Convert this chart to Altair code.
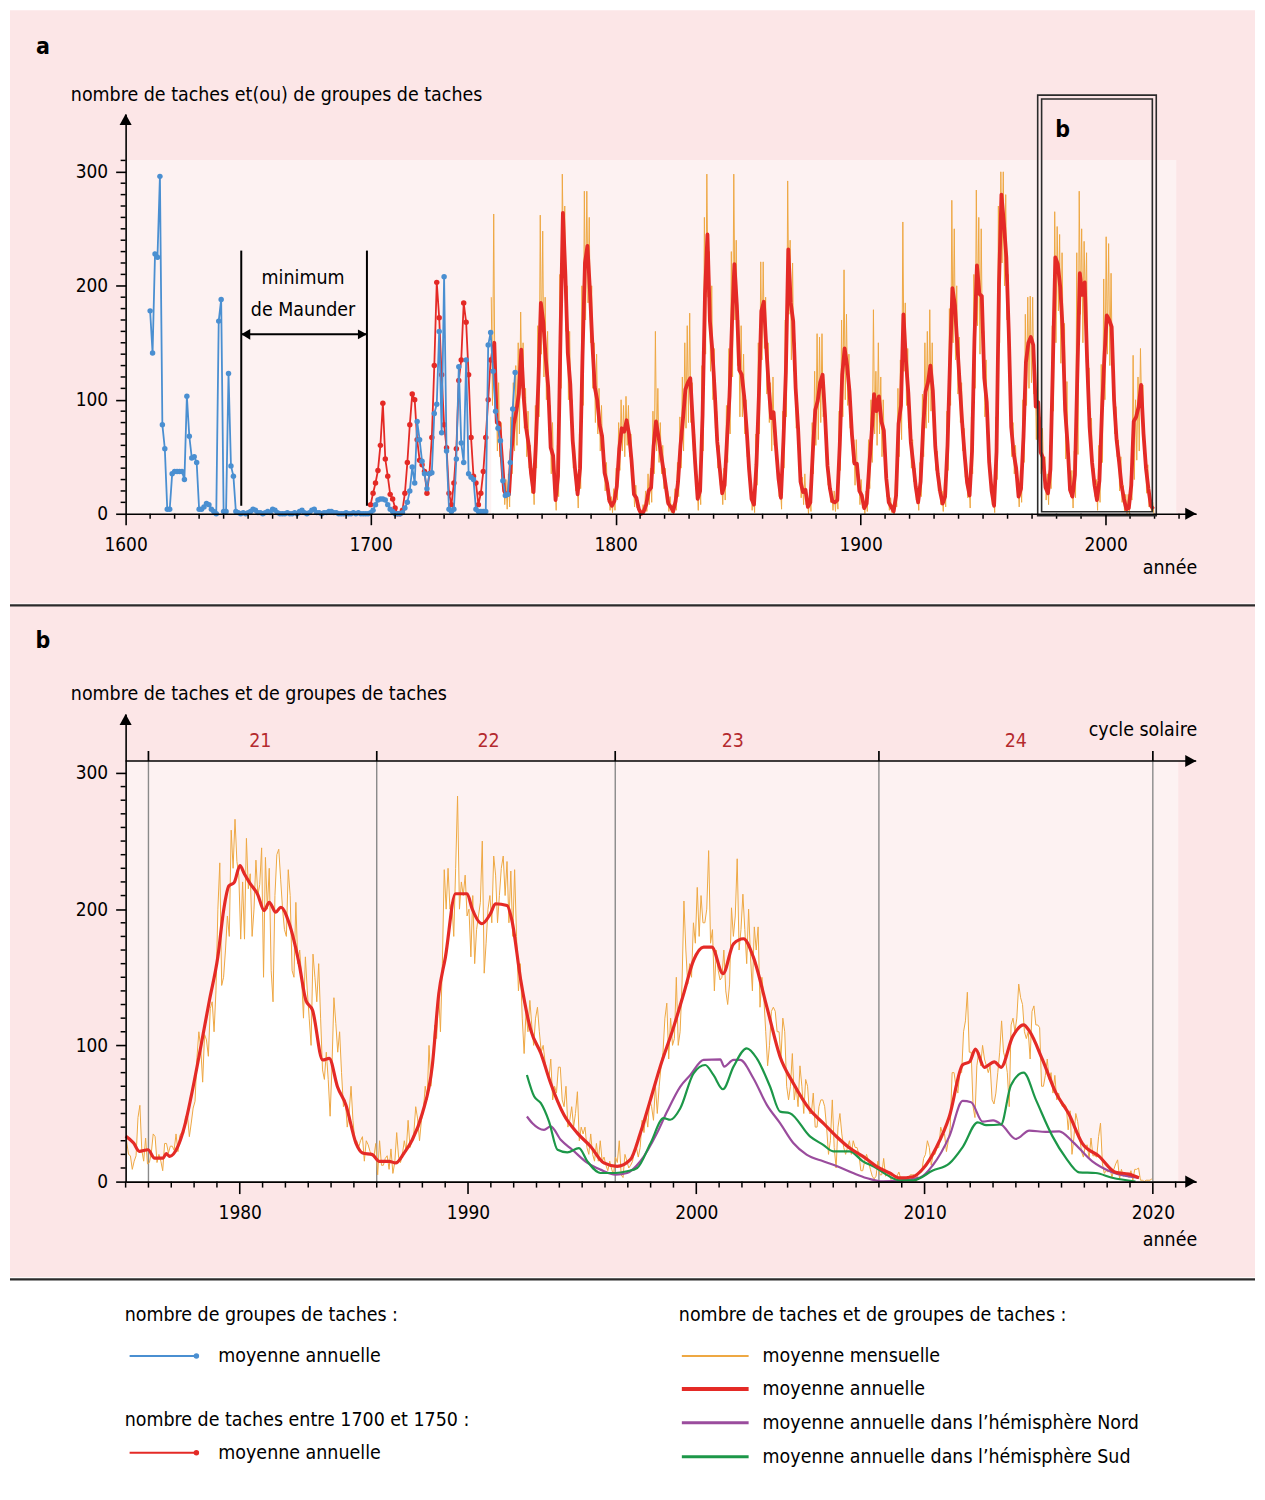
import altair as alt
import pandas as pd

# ------------------------------------------------------------------ data
# Panel a : number of sunspot groups (annual mean), 1610-1759
BLUE_YEARS = list(range(1610, 1760))
BLUE_VALUES = [
    178, 141, 228, 225, 296, 78, 57, 4, 4, 35,
    37, 37, 37, 37, 30, 103, 68, 49, 50, 45,
    4, 4, 6, 9, 8, 4, 2, 0, 169, 188,
    2, 2, 123, 42, 33, 2, 1, 0, 1, 0,
    1, 2, 4, 3, 1, 1, 0, 1, 2, 1,
    4, 3, 1, 0, 0, 0, 1, 0, 0, 1,
    0, 2, 3, 1, 0, 1, 3, 4, 1, 1,
    0, 1, 1, 2, 2, 1, 1, 0, 0, 0,
    1, 0, 0, 1, 0, 1, 0, 0, 0, 0,
    1, 3, 8, 12, 13, 13, 12, 8, 4, 2,
    0, 0, 0, 1, 5, 10, 20, 41, 27, 81,
    65, 46, 35, 22, 35, 36, 88, 96, 160, 71,
    208, 55, 4, 2, 4, 48, 129, 62, 45, 135,
    35, 32, 30, 4, 2, 2, 2, 2, 148, 159,
    125, 90, 75, 64, 29, 16, 17, 45, 92, 124,
]

# Panel a : number of sunspots 1700-1749 (annual mean, with dots)
RED_DOT_YEARS = list(range(1700, 1750))
RED_DOT_VALUES = [
    8, 18, 27, 38, 60, 97, 48, 33, 17, 13,
    5, 0, 0, 3, 18, 45, 78, 105, 100, 65,
    47, 43, 37, 18, 35, 67, 130, 203, 172, 122,
    78, 58, 18, 8, 27, 57, 117, 135, 185, 168,
    122, 67, 33, 27, 8, 18, 37, 67, 100, 135,
]

# Panel a : sunspot number 1749-2019, annual (smoothed) mean
ANNUAL_YEARS = list(range(1749, 2020))
ANNUAL_VALUES = [
    135,
    150, 80, 80, 51, 20, 16, 17, 54, 79, 90,
    105, 144, 102, 75, 61, 35, 19, 63, 116, 185,
    168, 136, 111, 58, 51, 12, 33, 154, 264, 210,
    141, 114, 64, 38, 17, 40, 138, 220, 235, 197,
    150, 111, 100, 78, 68, 36, 27, 11, 7, 11,
    24, 57, 75, 72, 82, 70, 47, 17, 14, 4,
    0, 2, 8, 20, 23, 59, 81, 68, 53, 39,
    24, 9, 6, 2, 11, 28, 60, 83, 109, 115,
    119, 81, 44, 13, 20, 86, 193, 245, 169, 143,
    106, 63, 40, 18, 25, 66, 103, 166, 219, 183,
    126, 122, 103, 74, 39, 13, 8, 43, 104, 178,
    186, 147, 112, 84, 89, 58, 31, 14, 63, 124,
    232, 185, 169, 110, 75, 28, 19, 21, 6, 10,
    54, 91, 99, 115, 122, 86, 42, 22, 11, 10,
    12, 60, 122, 145, 130, 107, 69, 44, 44, 20,
    16, 5, 9, 41, 70, 105, 90, 103, 81, 73,
    31, 10, 6, 2, 16, 79, 95, 175, 135, 106,
    63, 44, 24, 10, 28, 74, 107, 115, 130, 108,
    59, 35, 19, 9, 15, 60, 133, 198, 183, 148,
    113, 79, 51, 27, 16, 55, 154, 218, 193, 191,
    119, 98, 45, 20, 7, 54, 201, 280, 255, 225,
    159, 76, 53, 40, 15, 22, 67, 133, 150, 155,
    148, 94, 98, 54, 49, 23, 18, 39, 131, 225,
    219, 199, 162, 91, 61, 21, 15, 34, 123, 211,
    192, 203, 133, 76, 45, 25, 12, 29, 88, 136,
    174, 170, 164, 99, 65, 46, 25, 13, 4, 5,
    25, 81, 85, 94, 113, 70, 40, 22, 7, 4,
]
# Panel a : monthly means, highest and lowest month of each year 1749-2019
MONTH_HIGH = [
    190,
    263, 120, 115, 80, 40, 30, 35, 85, 115, 130,
    150, 177, 150, 110, 90, 60, 40, 95, 165, 262,
    248, 190, 160, 95, 80, 30, 60, 210, 298, 270,
    200, 160, 100, 60, 35, 70, 200, 283, 283, 260,
    200, 150, 140, 110, 95, 55, 45, 22, 15, 22,
    40, 80, 100, 95, 103, 95, 70, 30, 25, 12,
    3, 8, 20, 35, 40, 90, 160, 110, 80, 60,
    40, 20, 15, 8, 22, 45, 85, 120, 150, 165,
    176, 115, 70, 25, 35, 130, 260, 298, 230, 200,
    145, 90, 60, 30, 40, 95, 145, 230, 298, 240,
    170, 165, 140, 100, 60, 25, 18, 70, 150, 221,
    221, 190, 150, 115, 120, 80, 45, 25, 90, 170,
    292, 240, 220, 150, 100, 45, 32, 35, 14, 20,
    80, 125, 158, 155, 158, 115, 60, 35, 20, 20,
    22, 90, 170, 214, 175, 140, 95, 65, 65, 35,
    30, 12, 20, 65, 100, 179, 125, 150, 120, 100,
    50, 20, 14, 8, 30, 110, 135, 256, 185, 145,
    90, 65, 40, 20, 45, 105, 150, 160, 179, 150,
    85, 55, 32, 20, 28, 90, 180, 275, 250, 200,
    155, 115, 75, 45, 30, 85, 210, 284, 260, 250,
    160, 135, 70, 35, 15, 85, 270, 300, 300, 280,
    210, 110, 80, 60, 28, 38, 100, 175, 190, 191,
    190, 130, 135, 85, 75, 50, 35, 60, 165, 265,
    252, 245, 229, 167, 116, 35, 38, 55, 229, 283,
    250, 239, 229, 128, 84, 40, 30, 60, 131, 206,
    243, 237, 211, 128, 94, 65, 50, 25, 17, 17,
    40, 139, 100, 120, 145, 113, 57, 43, 16, 10,
]
MONTH_LOW = [
    95,
    110, 55, 50, 30, 8, 4, 6, 35, 55, 60,
    70, 110, 75, 50, 40, 18, 8, 40, 85, 140,
    120, 100, 75, 35, 30, 3, 15, 110, 220, 160,
    100, 80, 40, 20, 5, 22, 95, 170, 185, 150,
    110, 80, 70, 55, 45, 20, 12, 3, 1, 3,
    12, 38, 55, 50, 60, 50, 30, 6, 5, 0,
    0, 0, 2, 8, 10, 35, 55, 45, 35, 22,
    10, 2, 1, 0, 3, 15, 40, 55, 75, 80,
    80, 55, 25, 3, 8, 55, 140, 190, 125, 100,
    75, 40, 25, 8, 12, 45, 70, 120, 170, 130,
    85, 85, 70, 50, 22, 3, 1, 25, 70, 135,
    145, 105, 80, 55, 60, 38, 15, 4, 40, 85,
    175, 135, 125, 75, 50, 14, 8, 8, 0, 2,
    35, 60, 65, 80, 85, 60, 25, 10, 3, 2,
    4, 38, 85, 100, 95, 75, 45, 25, 25, 8,
    5, 0, 2, 22, 45, 70, 60, 70, 50, 48,
    15, 3, 1, 0, 6, 50, 65, 125, 95, 75,
    40, 28, 12, 3, 15, 50, 75, 80, 90, 75,
    38, 20, 8, 2, 6, 38, 95, 150, 135, 105,
    80, 55, 32, 14, 5, 35, 110, 165, 140, 140,
    85, 70, 28, 8, 1, 30, 150, 220, 200, 170,
    115, 50, 35, 25, 6, 10, 45, 95, 110, 115,
    105, 65, 70, 35, 30, 12, 8, 22, 90, 150,
    178, 132, 140, 48, 40, 15, 5, 14, 52, 175,
    150, 180, 94, 60, 30, 15, 3, 10, 45, 100,
    140, 130, 128, 70, 50, 20, 10, 2, 0, 0,
    12, 30, 47, 55, 90, 58, 18, 6, 2, 0,
]
MAUNDER = [1647.2, 1698.5]
BOX_OUTER = [1972.3, 2020.7]
BOX_INNER = [1973.9, 2019.1]

# Panel b : monthly means Jan 1975 - Dec 2019
B_MONTHLY_START = 1975
B_MONTHLY = [
    30, 20, 19, 9, 15, 19, 47, 56, 23, 15, 32, 13,
    14, 21, 35, 33, 14, 20, 15, 8, 28, 28, 21, 26,
    26, 23, 35, 22, 34, 36, 35, 48, 49, 33, 43, 54,
    59, 91, 110, 98, 73, 108, 104, 92, 127, 132, 110, 140,
    200, 234, 144, 150, 170, 195, 180, 258, 230, 266, 235, 225,
    178, 220, 178, 252, 215, 226, 180, 200, 236, 210, 218, 245,
    150, 238, 200, 230, 155, 132, 210, 240, 244, 222, 200, 185,
    180, 229, 210, 155, 150, 205, 160, 170, 150, 120, 165, 140,
    120, 100, 167, 150, 132, 160, 120, 82, 75, 95, 75, 48,
    85, 135, 116, 95, 110, 80, 55, 60, 40, 50, 70, 45,
    30, 30, 25, 30, 33, 15, 30, 27, 22, 20, 18, 28,
    5, 30, 12, 12, 17, 19, 9, 24, 6, 14, 36, 18,
    14, 20, 30, 22, 45, 25, 30, 35, 55, 46, 30, 45,
    52, 70, 60, 100, 70, 90, 115, 105, 140, 110, 160, 229,
    200, 230, 200, 205, 180, 230, 283, 200, 220, 210, 225, 195,
    200, 165, 210, 160, 185, 195, 205, 250, 153, 175, 200, 210,
    190, 239, 225, 190, 210, 230, 239, 210, 235, 190, 228, 180,
    229, 180, 140, 160, 120, 94, 125, 110, 133, 115, 100, 120,
    128, 110, 95, 100, 88, 80, 75, 90, 60, 70, 65, 84,
    84, 60, 55, 70, 40, 45, 55, 40, 50, 66, 30, 40,
    35, 40, 25, 20, 35, 20, 15, 28, 15, 30, 15, 18,
    12, 8, 15, 9, 5, 18, 14, 30, 5, 3, 20, 15,
    10, 12, 15, 23, 25, 18, 25, 45, 36, 50, 40, 60,
    55, 45, 70, 50, 70, 85, 95, 120, 131, 90, 120, 100,
    105, 150, 100, 110, 145, 206, 170, 145, 160, 150, 190, 175,
    216, 180, 210, 190, 190, 200, 243, 175, 185, 140, 170, 155,
    148, 150, 170, 140, 130, 145, 201, 180, 195, 237, 170, 185,
    211, 185, 160, 200, 165, 140, 187, 170, 187, 128, 150, 135,
    110, 85, 100, 125, 128, 125, 110, 110, 90, 120, 110, 70,
    60, 70, 94, 60, 70, 55, 85, 70, 50, 75, 70, 50,
    50, 65, 40, 40, 55, 60, 60, 55, 40, 20, 30, 60,
    25, 10, 40, 50, 35, 25, 20, 25, 30, 20, 30, 25,
    25, 20, 8, 8, 15, 20, 15, 9, 4, 2, 4, 15,
    5, 5, 17, 4, 5, 5, 1, 0, 2, 4, 7, 2,
    2, 2, 1, 2, 5, 5, 5, 0, 6, 8, 7, 17,
    20, 30, 25, 12, 20, 20, 25, 25, 40, 35, 35, 22,
    30, 40, 80, 80, 70, 65, 80, 80, 110, 118, 139, 95,
    95, 55, 47, 85, 95, 85, 100, 90, 85, 80, 85, 60,
    57, 65, 80, 95, 118, 95, 90, 80, 55, 115, 120, 110,
    120, 145, 135, 130, 110, 105, 110, 90, 125, 129, 115, 115,
    113, 70, 70, 78, 90, 75, 80, 65, 78, 60, 65, 58,
    55, 57, 55, 38, 52, 20, 32, 50, 44, 33, 22, 18,
    26, 27, 17, 32, 19, 19, 18, 33, 43, 13, 6, 8,
    7, 10, 3, 9, 13, 16, 2, 9, 4, 5, 6, 3,
    8, 1, 9, 9, 10, 1, 1, 0, 1, 1, 1, 2,
]
# Panel b : annual (smoothed) mean
B_RED_T = [1975.0, 1975.35, 1975.6, 1975.98, 1976.27, 1976.64, 1976.78, 1976.93, 1977.29, 1977.58,
           1977.87, 1978.24, 1978.67, 1979.04, 1979.3, 1979.52, 1979.76, 1980.01, 1980.2, 1980.42,
           1980.78, 1981.07, 1981.29, 1981.58, 1981.8, 1982.17, 1982.6, 1982.9, 1983.19, 1983.63,
           1983.92, 1984.28, 1984.65, 1985.09, 1985.38, 1985.81, 1986.1, 1986.54, 1986.83, 1987.2,
           1987.56, 1988.0, 1988.43, 1988.72, 1989.01, 1989.45, 1989.96, 1990.18, 1990.61, 1990.98,
           1991.2, 1991.71, 1991.92, 1992.31, 1992.75, 1993.19, 1993.62, 1994.2, 1994.79, 1995.37,
           1995.95, 1996.53, 1997.11, 1997.55, 1997.99, 1998.42, 1999.01, 1999.45, 1999.88, 2000.32,
           2000.68, 2001.17, 2001.63, 2002.07, 2002.5, 2003.09, 2003.67, 2004.25, 2004.98, 2005.56,
           2006.14, 2006.72, 2007.3, 2007.89, 2008.47, 2008.9, 2009.49, 2009.93, 2010.51, 2011.09,
           2011.67, 2011.97, 2012.23, 2012.62, 2013.06, 2013.35, 2013.86, 2014.34, 2014.59, 2015.17,
           2015.75, 2016.33, 2016.91, 2017.64, 2018.37, 2018.95, 2019.39]
B_RED_V = [33.4, 28.3, 22.2, 23.4, 17.3, 17.3, 20.5, 18.5, 25.8, 40.5,
           62.4, 94.2, 133, 165, 200, 217, 219.7, 232, 226, 219.7,
           211, 199, 205, 197.8, 201.4, 189.3, 160, 133, 125.8, 89.3,
           90.5, 69.7, 56.3, 28.3, 21, 19.8, 14.9, 14.9, 13.7, 21,
           30.7, 50.2, 84.4, 138, 164.8, 211.3, 211.3, 200.3, 189.3, 196.6,
           204, 202.7, 192, 147.8, 111.2, 94.2, 72.2, 49, 35.6, 25.8,
           13.7, 11.2, 16.1, 35.6, 60, 84.4, 113.6, 138, 162.4, 172.2,
           172.2, 152.7, 174.6, 178.3, 164.8, 128.3, 91.7, 72.2, 52.7, 42.9,
           33.1, 24.6, 18.5, 11.2, 6.3, 2.7, 3.6, 9.4, 24.9, 48,
           85.8, 87.9, 97.2, 83.9, 87.9, 83.9, 106.5, 115.1, 110.6, 89.3,
           65.3, 49.4, 28.1, 18.7, 6.8, 5.5, 2.8]
# Panel b : northern hemisphere
B_NORTH_T = [1992.58, 1992.82, 1993.33, 1993.62, 1994.06, 1994.57, 1995.23, 1995.8, 1996.46, 1996.97,
             1997.55, 1998.28, 1998.72, 1999.3, 1999.74, 2000.32, 2001.05, 2001.22, 2001.63, 2001.92,
             2002.5, 2003.09, 2003.67, 2004.25, 2004.83, 2005.56, 2006.0, 2006.87, 2007.45, 2008.18,
             2009.8, 2010.36, 2011.09, 2011.67, 2012.04, 2012.54, 2013.0, 2013.4, 2014.0, 2014.59,
             2015.3, 2015.9, 2016.48, 2017.35, 2018.22, 2019.39]
B_NORTH_V = [47.8, 42.9, 38, 40.5, 30.7, 23.4, 13.7, 8.8, 5.1, 6.3,
             14.9, 35.6, 51.4, 69.8, 78.3, 89.3, 89.8, 84.4, 89.3, 89.3,
             75.9, 56.3, 42.9, 28.3, 19.8, 14.9, 12.4, 6.3, 2.7, 0.2,
             3, 12, 33.4, 59.2, 58.3, 44.1, 44.9, 41.4, 31.3, 37.4,
             36.5, 36.9, 29.4, 14.8, 6.8, 2.8]
# Panel b : southern hemisphere
B_SOUTH_T = [1992.58, 1992.9, 1993.19, 1993.55, 1993.92, 1994.35, 1994.86, 1995.23, 1995.81, 1996.46,
             1996.97, 1997.41, 1997.99, 1998.57, 1998.86, 1999.3, 1999.88, 2000.39, 2000.75, 2001.17,
             2001.63, 2002.21, 2002.65, 2003.23, 2003.67, 2004.1, 2004.98, 2005.56, 2006.0, 2006.72,
             2007.3, 2007.89, 2008.33, 2008.9, 2009.5, 2010.36, 2011.09, 2011.67, 2012.33, 2012.7,
             2013.35, 2013.78, 2014.34, 2014.88, 2015.6, 2016.19, 2016.77, 2017.5, 2018.22, 2019.24]
B_SOUTH_V = [78.3, 62.4, 57.6, 44.1, 23.4, 21.5, 24.6, 14.9, 6.3, 6.3,
             7.6, 10, 28, 46.6, 45.4, 53.9, 79.5, 85.6, 78.3, 67.8,
             84.4, 97.8, 90.5, 69.8, 51.4, 50.2, 33.2, 27, 22.2, 22.2,
             14.9, 10, 5.1, 0.9, 0.9, 8.1, 13.4, 25.4, 43.5, 41.4,
             41.9, 70.6, 80, 60, 33.4, 17.4, 6.8, 6.3, 2.8, 0.1]
CYCLE_BOUNDS = [1976.0, 1986.0, 1996.45, 2008.0, 2020.0]
CYCLE_MID = [1980.9, 1990.9, 2001.6, 2014.0]
CYCLE_NAMES = ["21", "22", "23", "24"]

# ------------------------------------------------------------------ style
FONT = "'Liberation Sans Narrow', 'DejaVu Sans Condensed', 'Roboto Condensed', 'Arial Narrow', sans-serif"
FS = 19.5          # body text size
FS_TICK = 19       # tick label size
PINK = "#fce6e7"
LIGHT = "#fdf2f2"
BLUE = "#4a8fd1"
RED = "#e42a26"
ORANGE = "#eea843"
PURPLE = "#9a4c9d"
GREEN = "#1c9748"
CYCLE_RED = "#b42a2e"
GRAY = "#8a8a8a"
DARK = "#2b2b2b"
ARROW_R = "M0,0 L-2,-1.1 L-2,1.1 Z"
ARROW_L = "M0,0 L2,-1.2 L2,1.2 Z"
ARROW_U = "M0,0 L-1.1,2 L1.1,2 Z"

W = 1074
HA = 401
HB = 469
HL = 206
LEFT, RIGHT = -116, 1133

ONE = pd.DataFrame({"k": [0]})


def text(s, x, y, size=FS, align="left", weight="normal", color="black"):
    return alt.Chart(ONE).mark_text(
        text=s, align=align, baseline="middle", font=FONT, fontSize=size,
        fontWeight=weight, color=color
    ).encode(x=alt.value(x), y=alt.value(y))


def prule(x, x2, y, y2, color=DARK, width=2.0):
    return alt.Chart(ONE).mark_rule(color=color, strokeWidth=width).encode(
        x=alt.value(x), x2=alt.value(x2), y=alt.value(y), y2=alt.value(y2))


def prect(x, x2, y, y2, color):
    return alt.Chart(ONE).mark_rect(color=color).encode(
        x=alt.value(x), x2=alt.value(x2), y=alt.value(y), y2=alt.value(y2))


def arrow(x, y, shape, size=121):
    return alt.Chart(ONE).mark_point(shape=shape, filled=True, size=size, color="black",
                                     opacity=1, strokeWidth=0).encode(
        x=alt.value(x), y=alt.value(y))


# ------------------------------------------------------------------ panel a
XA = alt.Scale(domain=[1600, 2037], nice=False, zero=False)
YA = alt.Scale(domain=[0, 350.7], nice=False)
AX_XA = alt.Axis(values=[1600, 1700, 1800, 1900, 2000], format="d", title=None, grid=False,
                 tickSize=11, labelPadding=11, zindex=2, labelFlush=False)
AX_YA = alt.Axis(values=[0, 100, 200, 300], title=None, grid=False,
                 tickSize=10, labelPadding=8, zindex=2, labelFlush=False)


def xa(f):
    return alt.X(f"{f}:Q", scale=XA, axis=AX_XA)


def ya(f):
    return alt.Y(f"{f}:Q", scale=YA, axis=AX_YA)


df_blue = pd.DataFrame({"year": BLUE_YEARS, "v": BLUE_VALUES})
df_reddot = pd.DataFrame({"year": RED_DOT_YEARS, "v": RED_DOT_VALUES})
df_red = pd.DataFrame({"year": [y + 0.5 for y in ANNUAL_YEARS], "v": ANNUAL_VALUES})
zig_t, zig_v = [], []
for y, h, l in zip(ANNUAL_YEARS, MONTH_HIGH, MONTH_LOW):
    zig_t += [y + 0.25, y + 0.75]
    zig_v += [h, l]
df_month_a = pd.DataFrame({"year": zig_t, "v": zig_v})
df_tick_xa = pd.DataFrame({"t": [t for t in range(1610, 2031, 10) if t % 100]})
df_tick_ya = pd.DataFrame({"t": [t for t in range(10, 320, 10) if t % 100]})
df_maunder = pd.DataFrame({"year": MAUNDER})
df_maunder_arrow = pd.DataFrame({"a": [MAUNDER[0]], "b": [MAUNDER[1]]})
df_box_outer = pd.DataFrame({"a": [BOX_OUTER[0]], "b": [BOX_OUTER[1]]})
df_box_inner = pd.DataFrame({"a": [BOX_INNER[0]], "b": [BOX_INNER[1]]})

a_layers = [
    prect(LEFT, RIGHT, -104, 491, PINK),
    prect(0, 1054, 46, HA, LIGHT),
    alt.Chart(df_month_a).mark_area(color="white").encode(x=xa("year"), y=ya("v")),
    alt.Chart(df_month_a).mark_line(color=ORANGE, strokeWidth=1.0).encode(x=xa("year"), y=ya("v")),
    alt.Chart(df_red).mark_line(color=RED, strokeWidth=3.8, strokeJoin="round").encode(
        x=xa("year"), y=ya("v")),
    alt.Chart(df_reddot).mark_line(color=RED, strokeWidth=1.8,
                                   point=alt.OverlayMarkDef(filled=True, size=30, color=RED)).encode(
        x=xa("year"), y=ya("v")),
    alt.Chart(df_blue).mark_line(color=BLUE, strokeWidth=1.8,
                                 point=alt.OverlayMarkDef(filled=True, size=30, color=BLUE)).encode(
        x=xa("year"), y=ya("v")),
    alt.Chart(df_tick_xa).mark_rule(color="black", strokeWidth=1.5).encode(
        x=xa("t"), y=alt.value(HA), y2=alt.value(HA + 5)),
    alt.Chart(df_tick_ya).mark_rule(color="black", strokeWidth=1.5).encode(
        y=ya("t"), x=alt.value(-5), x2=alt.value(0)),
    # Maunder minimum annotation
    alt.Chart(df_maunder).mark_rule(color="black", strokeWidth=2).encode(
        x=xa("year"), y=alt.value(137), y2=alt.value(393)),
    alt.Chart(df_maunder_arrow).mark_rule(color="black", strokeWidth=2).encode(
        x=xa("a"), x2="b:Q", y=alt.value(221)),
    alt.Chart(df_maunder_arrow).mark_point(shape=ARROW_L, filled=True, size=81, color="black",
                                           opacity=1, strokeWidth=0).encode(x=xa("a"), y=alt.value(221)),
    alt.Chart(df_maunder_arrow).mark_point(shape=ARROW_R, filled=True, size=81, color="black",
                                           opacity=1, strokeWidth=0).encode(x=xa("b"), y=alt.value(221)),
    text("minimum", 178, 165, align="center"),
    text("de Maunder", 178, 197, align="center"),
    # double box marking the period of panel b
    alt.Chart(df_box_outer).mark_rect(fillOpacity=0, stroke=DARK, strokeWidth=1.6).encode(
        x=xa("a"), x2="b:Q", y=alt.value(-19), y2=alt.value(403)),
    alt.Chart(df_box_inner).mark_rect(fillOpacity=0, stroke=DARK, strokeWidth=1.6).encode(
        x=xa("a"), x2="b:Q", y=alt.value(-15), y2=alt.value(399)),
    text("b", 940, 16, size=23, align="center", weight="bold"),
    # axes arrows and labels
    arrow(W, HA, ARROW_R),
    arrow(0, 0, ARROW_U),
    text("a", -83, -67, size=23, align="center", weight="bold"),
    text("nombre de taches et(ou) de groupes de taches", -55, -19),
    text("année", 1075, 455, align="right"),
]
panel_a = alt.layer(*a_layers).properties(width=W, height=HA)

# ------------------------------------------------------------------ panel b
XB = alt.Scale(domain=[1975, 2021.9], nice=False, zero=False)
YB = alt.Scale(domain=[0, 343.2], nice=False)
AX_XB = alt.Axis(values=[1980, 1990, 2000, 2010, 2020], format="d", title=None, grid=False,
                 tickSize=12, labelPadding=10, zindex=2, labelFlush=False)
AX_YB = alt.Axis(values=[0, 100, 200, 300], title=None, grid=False,
                 tickSize=10, labelPadding=8, zindex=2, labelFlush=False)


def xb(f):
    return alt.X(f"{f}:Q", scale=XB, axis=AX_XB)


def yb(f):
    return alt.Y(f"{f}:Q", scale=YB, axis=AX_YB)


df_month_b = pd.DataFrame({"t": [B_MONTHLY_START + (i + 0.5) / 12 for i in range(len(B_MONTHLY))],
                           "v": B_MONTHLY})
df_red_b = pd.DataFrame({"t": B_RED_T, "v": B_RED_V})
df_north = pd.DataFrame({"t": B_NORTH_T, "v": B_NORTH_V})
df_south = pd.DataFrame({"t": B_SOUTH_T, "v": B_SOUTH_V})
df_cycle_b = pd.DataFrame({"t": CYCLE_BOUNDS})
df_cycle_m = pd.DataFrame({"t": CYCLE_MID, "n": CYCLE_NAMES})
df_tick_xb = pd.DataFrame({"t": [t for t in range(1975, 2022) if t % 10]})
df_tick_yb = pd.DataFrame({"t": [t for t in range(10, 310, 10) if t % 100]})

b_layers = [
    prect(LEFT, RIGHT, -110, 565, PINK),
    prect(0, 1056, 47, HB, LIGHT),
    prule(LEFT, RIGHT, -109, -109, DARK, 2.2),
    alt.Chart(df_month_b).mark_area(color="white").encode(x=xb("t"), y=yb("v")),
    alt.Chart(df_cycle_b).mark_rule(color=GRAY, strokeWidth=1.4).encode(
        x=xb("t"), y=alt.value(37), y2=alt.value(HB)),
    alt.Chart(df_cycle_b).mark_rule(color="black", strokeWidth=1.6).encode(
        x=xb("t"), y=alt.value(37), y2=alt.value(47)),
    prule(0, W, 47, 47, "black", 1.6),
    arrow(W, 47, ARROW_R),
    alt.Chart(df_cycle_m).mark_text(font=FONT, fontSize=FS, color=CYCLE_RED, baseline="middle").encode(
        x=xb("t"), y=alt.value(27), text="n:N"),
    alt.Chart(df_month_b).mark_line(color=ORANGE, strokeWidth=1).encode(x=xb("t"), y=yb("v")),
    alt.Chart(df_north).mark_line(color=PURPLE, strokeWidth=2.2, interpolate="monotone").encode(
        x=xb("t"), y=yb("v")),
    alt.Chart(df_south).mark_line(color=GREEN, strokeWidth=2.2, interpolate="monotone").encode(
        x=xb("t"), y=yb("v")),
    alt.Chart(df_red_b).mark_line(color=RED, strokeWidth=3.2, interpolate="monotone").encode(
        x=xb("t"), y=yb("v")),
    alt.Chart(df_tick_xb).mark_rule(color="black", strokeWidth=1.5).encode(
        x=xb("t"), y=alt.value(HB), y2=alt.value(HB + 6)),
    alt.Chart(df_tick_yb).mark_rule(color="black", strokeWidth=1.5).encode(
        y=yb("t"), x=alt.value(-5), x2=alt.value(0)),
    arrow(W, HB, ARROW_R),
    arrow(0, 0, ARROW_U),
    text("b", -83, -73, size=23, align="center", weight="bold"),
    text("nombre de taches et de groupes de taches", -55, -20),
    text("cycle solaire", 1075, 16, align="right"),
    text("année", 1075, 528, align="right"),
]
panel_b = alt.layer(*b_layers).properties(width=W, height=HB)


# ------------------------------------------------------------------ legend
def sample(x, x2, y, color, width, dot=False):
    layers = [prule(x, x2, y, y, color, width)]
    if dot:
        layers.append(alt.Chart(ONE).mark_circle(color=color, size=30, opacity=1).encode(
            x=alt.value(x2), y=alt.value(y)))
    return layers


leg_layers = [prect(LEFT, RIGHT, 0, HL, "white"), prule(LEFT, RIGHT, 1, 1, DARK, 2.2)]
leg_layers += [text("nombre de groupes de taches :", -1, 37)]
leg_layers += sample(4, 71, 78, BLUE, 2, dot=True)
leg_layers += [text("moyenne annuelle", 93, 78)]
leg_layers += [text("nombre de taches entre 1700 et 1750 :", -1, 142)]
leg_layers += sample(4, 71, 175, RED, 2, dot=True)
leg_layers += [text("moyenne annuelle", 93, 175)]
leg_layers += [text("nombre de taches et de groupes de taches :", 555, 37)]
leg_layers += sample(558, 625, 78, ORANGE, 2)
leg_layers += [text("moyenne mensuelle", 639, 78)]
leg_layers += sample(558, 625, 111, RED, 4)
leg_layers += [text("moyenne annuelle", 639, 111)]
leg_layers += sample(558, 625, 145, PURPLE, 3)
leg_layers += [text("moyenne annuelle dans l’hémisphère Nord", 639, 145)]
leg_layers += sample(558, 625, 179, GREEN, 3)
leg_layers += [text("moyenne annuelle dans l’hémisphère Sud", 639, 179)]
legend = alt.layer(*leg_layers).properties(width=W, height=HL)

chart = alt.vconcat(panel_a, panel_b, legend, spacing=0).properties(
    padding={"left": 0, "top": 0, "right": 0, "bottom": 0},
    background="white",
).configure_view(stroke=None).configure_axis(
    labelFont=FONT, labelFontSize=FS_TICK, labelColor="black",
    domainColor="black", domainWidth=1.6, tickColor="black", tickWidth=1.6,
)

chart.save("out.html", embed_options={"renderer": "svg", "actions": False})
